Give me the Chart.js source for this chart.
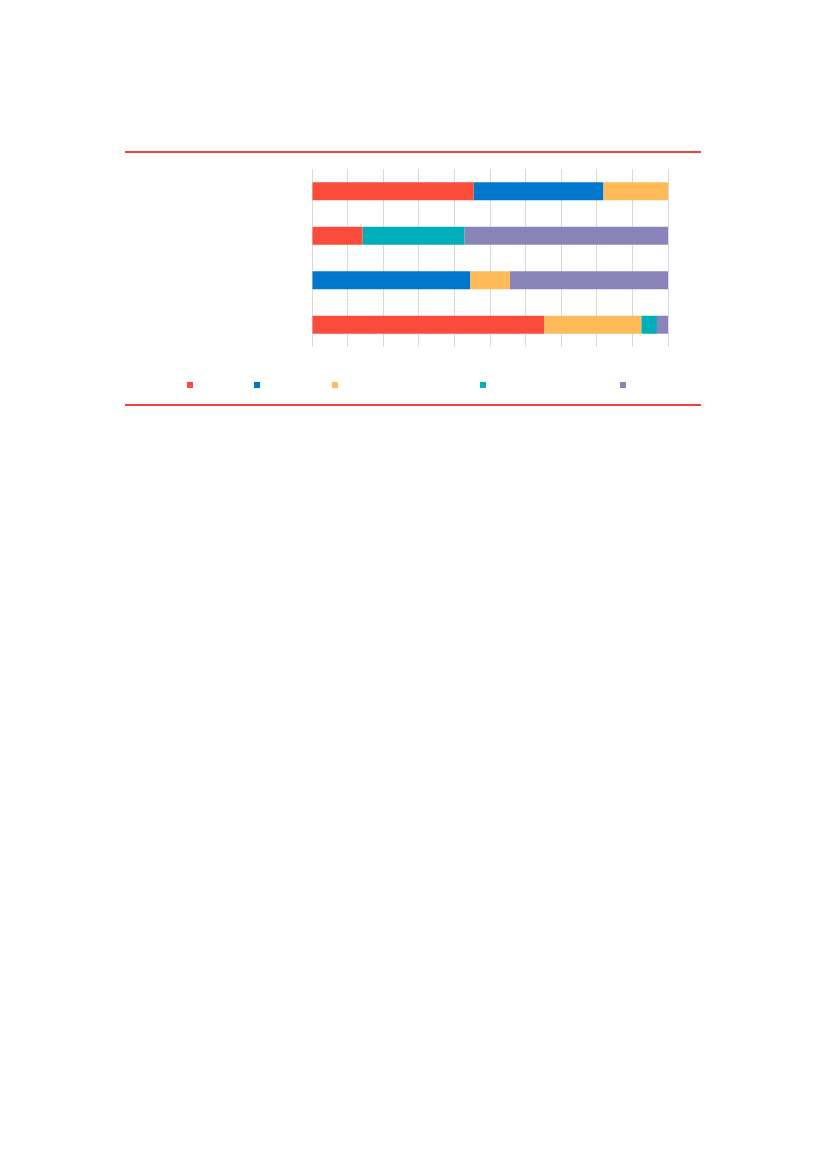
<!DOCTYPE html>
<html>
<head>
<meta charset="utf-8">
<script src="https://cdn.jsdelivr.net/npm/chart.js@4"></script>
<style>
  body { margin: 0; background: #fff; width: 827px; height: 1169px; position: relative; overflow: hidden; }
  .regle { position: absolute; left: 125px; width: 576px; height: 2px; background: #f44336; }
  #boite { position: absolute; left: 125px; top: 160px; width: 576px; height: 200px; }
  .carre { position: absolute; top: 382px; width: 6px; height: 6px; }
</style>
</head>
<body>
<div class="regle" style="top:151px"></div>
<div id="boite"><canvas id="graphe"></canvas></div>
<div id="legende"></div>
<div class="regle" style="top:404px"></div>
<script>
// ============================================
// DONNÉES (parts en %)
// Le modèle n'affiche aucun texte : catégories et séries restent muettes.
// ============================================
const categories = ["1", "2", "3", "4"];
const serieA = [45.4, 14.2, 0, 65.2];
const serieB = [36.4, 0, 44.4, 0];
const serieC = [18.2, 0, 11.2, 27.3];
const serieD = [0, 28.6, 0, 4.4];
const serieE = [0, 57.2, 44.4, 3.1];
const graduations = [0, 10, 20, 30, 40, 50, 60, 70, 80, 90, 100];

const SERIES = [
  { id: "a", valeurs: serieA, renk: "#f94c3b", x: 187 },
  { id: "b", valeurs: serieB, renk: "#0077cc", x: 254 },
  { id: "c", valeurs: serieC, renk: "#ffbb5a", x: 332 },
  { id: "d", valeurs: serieD, renk: "#00aeb9", x: 480 },
  { id: "e", valeurs: serieE, renk: "#8a84ba", x: 620 },
];

// ============================================
// LÉGENDE — carrés seuls, sans libellé
// ============================================
const legende = document.getElementById("legende");
SERIES.forEach(s => {
  const c = document.createElement("div");
  c.className = "carre";
  c.style.left = s.x + "px";
  c.style.background = s.renk;
  legende.appendChild(c);
});

// ============================================
// GRAPHIQUE
// ============================================
new Chart(document.getElementById("graphe"), {
  type: "bar",
  data: {
    labels: categories,
    datasets: SERIES.map(s => ({
      label: s.id,
      data: s.valeurs,
      backgroundColor: s.renk,
      borderWidth: 0,
      categoryPercentage: 1,
      barPercentage: 0.405,
    })),
  },
  options: {
    indexAxis: "y",
    responsive: true,
    maintainAspectRatio: false,
    animation: false,
    layout: { padding: { left: 187, right: 33, top: 9, bottom: 13 } },
    plugins: { legend: { display: false }, tooltip: { enabled: false } },
    scales: {
      x: {
        stacked: true,
        min: 0,
        max: 100,
        afterBuildTicks: axe => { axe.ticks = graduations.map(v => ({ value: v })); },
        ticks: { display: false },
        grid: { color: "#d9d9d9", lineWidth: 1, drawTicks: false },
        border: { display: false },
      },
      y: {
        stacked: true,
        display: false,
      },
    },
  },
});
</script>
</body>
</html>
